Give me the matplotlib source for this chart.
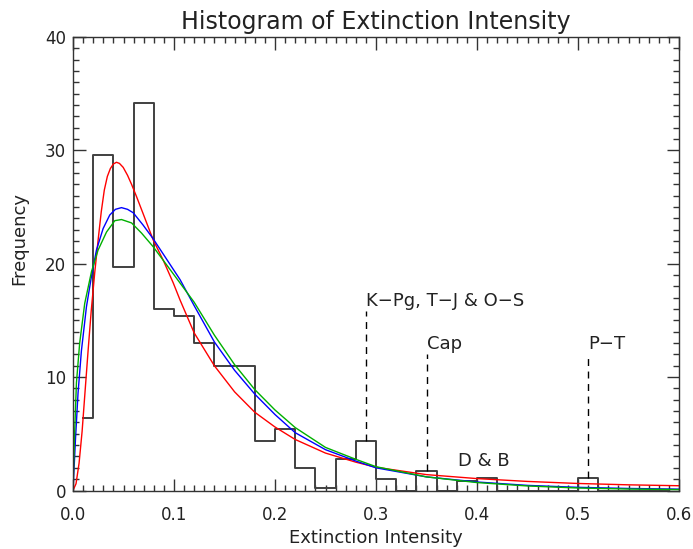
import numpy as np
import matplotlib
matplotlib.use("Agg")
import matplotlib.pyplot as plt
from matplotlib.ticker import MultipleLocator, FormatStrFormatter

# histogram (bin centres, drawn IDL psym=10 style)
bin_centres = [0.01, 0.03, 0.05, 0.07, 0.09, 0.11, 0.13, 0.15, 0.17, 0.19,
               0.21, 0.23, 0.25, 0.27, 0.29, 0.31, 0.33, 0.35, 0.37, 0.39,
               0.41, 0.43, 0.45, 0.47, 0.49, 0.51, 0.53, 0.55, 0.57, 0.59]
freq = [6.4, 29.6, 19.7, 34.2, 16.0, 15.4, 13.0, 11.0, 11.0, 4.4,
        5.4, 2.0, 0.25, 2.8, 4.4, 1.0, 0.0, 1.7, 0.0, 0.85,
        1.1, 0.0, 0.0, 0.0, 0.0, 1.1, 0.0, 0.0, 0.0, 0.0]

# fitted curves
red_x = [0, 0.003, 0.006, 0.009, 0.012, 0.015, 0.018, 0.0215, 0.025, 0.028,
         0.031, 0.034, 0.037, 0.040, 0.043, 0.046, 0.0497, 0.054, 0.058,
         0.063, 0.0695, 0.0794, 0.0894, 0.0993, 0.106, 0.12, 0.14, 0.16,
         0.18, 0.20, 0.22, 0.25, 0.28, 0.30, 0.35, 0.40, 0.45, 0.50, 0.55,
         0.60]
red_y = [0, 0.6, 2.4, 5.2, 8.8, 12.4, 15.8, 19.2, 22.2, 24.6,
         26.5, 27.7, 28.4, 28.8, 28.95, 28.85, 28.5, 27.8, 27.0,
         25.9, 24.4, 22.1, 20.3, 18.3, 16.8, 13.9, 11.0, 8.7,
         6.9, 5.6, 4.5, 3.3, 2.5, 2.05, 1.4, 1.05, 0.8, 0.62, 0.5,
         0.42]

blue_x = [0, 0.0025, 0.005, 0.0083, 0.0133, 0.0183, 0.0232, 0.0298, 0.0364,
          0.042, 0.048, 0.054, 0.0596, 0.0695, 0.0794, 0.0927, 0.106, 0.12,
          0.14, 0.16, 0.18, 0.20, 0.22, 0.25, 0.28, 0.30, 0.35, 0.40, 0.45,
          0.50, 0.55, 0.60]
blue_y = [0, 4.6, 8.6, 12.3, 16.2, 18.9, 21.2, 23.1, 24.3,
          24.8, 24.95, 24.8, 24.5, 23.4, 22.2, 20.4, 18.6, 16.3,
          13.1, 10.6, 8.5, 6.7, 5.1, 3.6, 2.6, 2.0, 1.2, 0.75, 0.45,
          0.28, 0.18, 0.12]

green_x = [0, 0.0015, 0.0034, 0.0066, 0.0116, 0.0183, 0.0248, 0.0332, 0.0414,
           0.048, 0.058, 0.0679, 0.0794, 0.0927, 0.106, 0.12, 0.14, 0.16,
           0.18, 0.20, 0.22, 0.25, 0.28, 0.30, 0.35, 0.40, 0.45, 0.50, 0.55,
           0.60]
green_y = [0, 4.8, 9.5, 13.0, 16.5, 19.3, 21.2, 22.8, 23.8,
           23.9, 23.6, 22.7, 21.5, 19.9, 18.3, 16.6, 13.7, 11.1,
           8.9, 7.1, 5.55, 3.8, 2.75, 2.1, 1.2, 0.7, 0.4, 0.22, 0.13,
           0.08]

# extinction events: (label, x, line bottom, line top)
events = [("K\u2212Pg, T\u2212J & O\u2212S", 0.29, 4.4, 15.8),
          ("Cap", 0.35, 1.7, 12.0),
          ("P\u2212T", 0.51, 1.1, 12.0)]
db_label = ("D & B", 0.381, 2.6)

txt = '#222222'
fig = plt.figure(figsize=(6.93, 5.49), dpi=100, facecolor='w')
ax = fig.add_axes([73/693, 1 - 490.5/549, 606/693, 453.5/549])

ax.step(bin_centres, freq, where='mid', color='#404040', lw=1.4)
ax.plot(red_x, red_y, color='red', lw=1.0)
ax.plot(blue_x, blue_y, color='blue', lw=1.0)
ax.plot(green_x, green_y, color='#00b000', lw=1.0)

for label, x, y0, y1 in events:
    ax.plot([x, x], [y0, y1], color='black', lw=1.0, ls=(0, (5, 4)))
    ax.text(x, y1 + 0.1, label, fontsize=13, color=txt, ha='left', va='bottom')
ax.text(db_label[1], db_label[2], db_label[0], fontsize=13, color=txt,
        ha='left', va='center')

ax.set_xlim(0, 0.6)
ax.set_ylim(0, 40)
ax.xaxis.set_major_locator(MultipleLocator(0.1))
ax.xaxis.set_minor_locator(MultipleLocator(0.01))
ax.yaxis.set_major_locator(MultipleLocator(10))
ax.yaxis.set_minor_locator(MultipleLocator(1))
ax.xaxis.set_major_formatter(FormatStrFormatter('%.1f'))
ax.tick_params(which='both', direction='in', top=True, right=True,
               colors='#333333', labelcolor=txt, labelsize=12)
ax.tick_params(which='major', length=9, width=1)
ax.tick_params(which='minor', length=4.3, width=1)
ax.tick_params(axis='x', which='major', pad=11)
ax.tick_params(axis='y', which='major', pad=5)
for s in ax.spines.values():
    s.set_color('#333333')
    s.set_linewidth(1.0)

ax.set_xlabel('Extinction Intensity', fontsize=13, color=txt)
ax.set_ylabel('Frequency', fontsize=13, color=txt)
ax.yaxis.set_label_coords(-0.074, 0.555)
ax.set_title('Histogram of Extinction Intensity', fontsize=17, color=txt, pad=6)

fig.savefig('out.png', dpi=100)
